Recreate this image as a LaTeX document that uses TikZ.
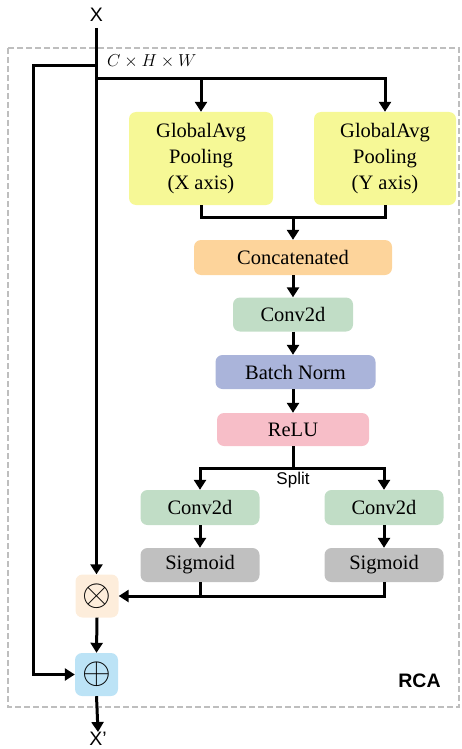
\documentclass[tikz,border=0pt]{standalone}
\usepackage{fontspec}
\setmainfont{Liberation Serif}
\newfontfamily\arialfont{Liberation Sans}
\usetikzlibrary{arrows.meta,calc}

\definecolor{poolyellow}{RGB}{246,248,150}
\definecolor{catorange}{RGB}{253,212,155}
\definecolor{convgreen}{RGB}{193,221,198}
\definecolor{bnblue}{RGB}{170,180,218}
\definecolor{relupink}{RGB}{247,190,200}
\definecolor{sigray}{RGB}{192,192,192}
\definecolor{mulpeach}{RGB}{253,237,219}
\definecolor{addblue}{RGB}{188,227,246}
\definecolor{framegray}{RGB}{190,190,190}

\tikzset{
  blk/.style={rounded corners=7pt, draw=none, align=center,
    font=\fontsize{20.5}{26}\selectfont, inner sep=0pt},
  opbox/.style={rounded corners=7pt, draw=none, inner sep=0pt,
    minimum width=43pt, minimum height=43pt},
  conn/.style={line width=3pt, line cap=butt},
  arr/.style={conn, -{Triangle[width=12pt,length=10pt]}},
  sanslabel/.style={font=\arialfont\fontsize{19.5}{20}\selectfont, inner sep=0pt}
}

\begin{document}
\begin{tikzpicture}[x=1pt, y=-1pt]
  \useasboundingbox (0,0) rectangle (462,749);

  % module frame
  \draw[framegray, line width=1.5pt, dash pattern=on 6pt off 3pt]
    (8,48) rectangle (459,707);

  % input / output labels
  \node[sanslabel] (xin) at (96.5,15) {X};
  \node[sanslabel, anchor=north] (xout) at (98,732) {X’};

  % pooling branches
  \node[blk, fill=poolyellow, minimum width=144pt, minimum height=93pt]
    (gx) at (201,158.5) {GlobalAvg\\Pooling\\(X axis)};
  \node[blk, fill=poolyellow, minimum width=142pt, minimum height=93pt]
    (gy) at (385,158.5) {GlobalAvg\\Pooling\\(Y axis)};

  % shared trunk
  \node[blk, fill=catorange, minimum width=198pt, minimum height=35pt]
    (cat) at (293,257.5) {Concatenated};
  \node[blk, fill=convgreen, minimum width=120pt, minimum height=34pt]
    (conv) at (293,314.5) {Conv2d};
  \node[blk, fill=bnblue, minimum width=160pt, minimum height=34pt]
    (bn) at (295.5,372) {Batch Norm};
  \node[blk, fill=relupink, minimum width=152pt, minimum height=33pt]
    (relu) at (293,429.5) {ReLU};

  % split heads
  \node[blk, fill=convgreen, minimum width=119pt, minimum height=35pt]
    (c1) at (200,507.5) {Conv2d};
  \node[blk, fill=convgreen, minimum width=119pt, minimum height=35pt]
    (c2) at (384,507.5) {Conv2d};
  \node[blk, fill=sigray, minimum width=119pt, minimum height=34pt]
    (s1) at (200,565) {Sigmoid};
  \node[blk, fill=sigray, minimum width=119pt, minimum height=34pt]
    (s2) at (384,565) {Sigmoid};

  % element-wise operators
  \node[opbox, fill=mulpeach] (mul) at (97,596) {\scalebox{3.7}{$\otimes$}};
  \node[opbox, fill=addblue] (add) at (96.5,674.5) {\scalebox{3.7}{$\oplus$}};

  % labels
  \node[font=\fontsize{17.5}{20}\selectfont, anchor=west, inner sep=0pt]
    (dims) at (107,61) {$C\times H\times W$};
  \node[sanslabel, font=\arialfont\fontsize{17}{18}\selectfont]
    (splitlbl) at (293,480) {Split};
  \node[sanslabel, font=\arialfont\bfseries\fontsize{19.5}{20}\selectfont]
    (rca) at (419.5,681) {RCA};

  % junction points
  \coordinate (tapres) at (96.5,66);
  \coordinate (tappool) at (96.5,79);
  \coordinate (joinpool) at (293,217);
  \coordinate (split) at (293,468);
  \coordinate (resbend) at (33,66);

  % main path
  \draw[arr] (xin.south |- 0,28) -- (mul.north -| xin);
  \draw[arr] (tappool) -| (gx.north);
  \draw[conn] (tappool) -- (gx.north |- tappool);
  \draw[arr] (tappool) -| (gy.north);

  % residual bypass
  \draw[arr] (tapres) -- (resbend) |- (add.west);

  % merge of pooling outputs
  \draw[conn] (gx.south) |- (joinpool) -| (gy.south);
  \draw[arr] (joinpool) -- (cat.north);

  \draw[arr] (cat.south) -- (conv.north);
  \draw[arr] (conv.south) -- (conv.south |- bn.north);
  \draw[arr] (conv.south |- bn.south) -- (relu.north);

  % split into two heads
  \draw[conn] (relu.south) -- (split);
  \draw[arr] (split) -| (c1.north);
  \draw[arr] (split) -| (c2.north);
  \draw[arr] (c1.south) -- (s1.north);
  \draw[arr] (c2.south) -- (s2.north);

  % attention weights back to the multiplier
  \draw[conn] (s1.south) -- (s1.south |- mul.east);
  \draw[arr] (s2.south) |- (mul.east);

  \draw[arr] (mul.south) -- (add.north);
  \draw[arr] (add.south) -- (xout.north);
\end{tikzpicture}
\end{document}
